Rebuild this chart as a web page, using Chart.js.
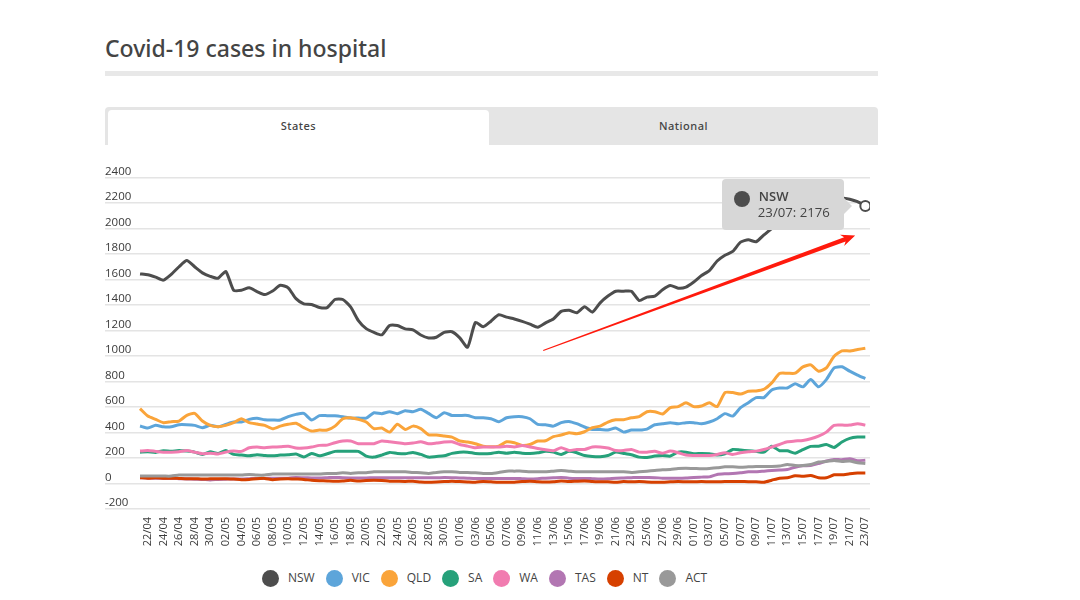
<!DOCTYPE html>
<html>
<head>
<meta charset="utf-8">
<title>Covid-19 cases in hospital</title>
<script src="https://cdn.jsdelivr.net/npm/chart.js@4/dist/chart.umd.min.js"></script>
<style>
  html, body { margin: 0; padding: 0; background: #fff; }
  body { width: 1080px; height: 600px; position: relative; overflow: hidden; font-family: "Open Sans", sans-serif; color: #444; }
  h1 { position: absolute; left: 105px; top: 32px; margin: 0; font: 500 23px/32px "Noto Sans", sans-serif; color: #444; }
  .rule { position: absolute; left: 105px; top: 71px; width: 773px; height: 5px; background: #e8e8e8; }
  .tabs { position: absolute; left: 105px; top: 107px; width: 773px; height: 38px; background: #e5e5e5; border-radius: 4px 4px 0 0; }
  .tab { position: absolute; top: 3px; height: 35px; text-align: center; font: 500 11px/32px "Noto Sans", sans-serif; letter-spacing: 0.5px; color: #444; }
  .tab.on { left: 3px; width: 381px; background: #fff; border-radius: 4px 4px 0 0; }
  .tab.off { left: 384px; width: 389px; }
  #wrap { position: absolute; left: 105px; top: 150px; width: 775px; height: 410px; }
  #legend { position: absolute; left: 262px; top: 569px; display: flex; align-items: center; height: 18px; }
  #legend span.dot { width: 17px; height: 17px; border-radius: 50%; margin-right: 9px; }
  #legend span.txt { font: 500 12px/18px "Open Sans", sans-serif; color: #444; margin-right: 11px; }
  #tip { position: absolute; width: 122px; height: 51px; background: #d7d7d7; border-radius: 4px; display: none; }
  #tip:after { content: ""; position: absolute; right: -8px; top: 19px; border-left: 8px solid #d7d7d7; border-top: 8px solid transparent; border-bottom: 8px solid transparent; }
  #tip i { position: absolute; left: 12px; top: 12px; width: 16px; height: 16px; border-radius: 50%; }
  #tip b { position: absolute; left: 37px; top: 9px; font: 600 13px/17px "Open Sans", sans-serif; color: #444; }
  #tip span { position: absolute; left: 36px; top: 25px; font: 400 13.2px/17px "Open Sans", sans-serif; color: #444; white-space: nowrap; }
</style>
</head>
<body>
<h1>Covid-19 cases in hospital</h1>
<div class="rule"></div>
<div class="tabs"><div class="tab on">States</div><div class="tab off">National</div></div>
<div id="wrap"><canvas id="hospitalChart"></canvas><div id="tip"><i></i><b></b><span></span></div></div>
<div id="legend"></div>
<script>
// --- DATA ---
const dates = [
  '21/04','22/04','23/04','24/04','25/04','26/04','27/04','28/04','29/04','30/04',
  '01/05','02/05','03/05','04/05','05/05','06/05','07/05','08/05','09/05','10/05','11/05','12/05','13/05','14/05','15/05','16/05','17/05','18/05','19/05','20/05','21/05','22/05','23/05','24/05','25/05','26/05','27/05','28/05','29/05','30/05','31/05',
  '01/06','02/06','03/06','04/06','05/06','06/06','07/06','08/06','09/06','10/06','11/06','12/06','13/06','14/06','15/06','16/06','17/06','18/06','19/06','20/06','21/06','22/06','23/06','24/06','25/06','26/06','27/06','28/06','29/06','30/06',
  '01/07','02/07','03/07','04/07','05/07','06/07','07/07','08/07','09/07','10/07','11/07','12/07','13/07','14/07','15/07','16/07','17/07','18/07','19/07','20/07','21/07','22/07','23/07'
];
const stateNames = ['NSW', 'VIC', 'QLD', 'SA', 'WA', 'TAS', 'NT', 'ACT'];
const stateColors = ['#4d4d4d', '#5da5da', '#faa43a', '#26a17a', '#f17cb0', '#b276b2', '#d64000', '#999999'];
const yTicks = [-200, 2400, 200];

const nsw = [1644,1637,1618,1595,1640,1700,1749,1700,1652,1625,1610,1663,1516,1516,1535,1505,1482,1510,1555,1535,1450,1409,1404,1380,1380,1443,1443,1385,1278,1215,1185,1166,1239,1239,1213,1205,1165,1142,1147,1185,1190,1142,1069,1263,1229,1273,1323,1305,1290,1272,1250,1226,1260,1290,1350,1359,1339,1386,1344,1417,1470,1508,1508,1508,1435,1462,1470,1520,1553,1532,1540,1580,1631,1670,1745,1790,1820,1893,1911,1896,1950,2000,2050,2100,2145,2180,2200,2215,2225,2235,2240,2230,2210,2176];
const vic = [451,435,456,445,445,461,461,456,438,456,445,464,482,482,503,511,500,498,498,524,542,550,498,532,532,532,524,513,513,513,555,548,563,548,571,563,582,550,516,555,534,534,534,516,516,508,485,516,524,524,508,464,461,450,477,487,469,443,424,424,419,435,403,419,419,427,461,469,477,469,477,477,469,482,508,548,529,595,634,674,674,734,749,749,782,758,815,758,815,907,915,881,850,823];
const qld = [587,529,503,477,485,490,535,550,490,456,445,456,477,508,477,466,456,430,450,464,472,438,411,419,419,450,508,516,503,482,430,435,403,464,424,450,430,382,380,372,364,333,325,312,293,288,293,327,320,299,306,333,335,367,380,398,390,406,438,450,482,500,500,516,524,563,563,545,595,603,634,603,608,634,603,713,713,702,723,726,739,789,863,865,865,915,930,881,907,998,1040,1040,1051,1061];
const sa = [246,249,244,257,252,259,254,246,228,249,236,259,228,223,217,225,220,217,223,225,231,207,236,217,233,252,252,252,252,215,207,223,244,236,233,244,228,207,212,217,236,246,246,236,233,236,246,238,246,238,236,241,252,246,228,252,241,220,212,210,220,246,236,225,207,204,215,220,215,246,246,233,236,233,223,233,267,262,257,252,246,293,257,257,238,265,291,293,306,283,325,354,364,364];
const wa = [254,259,252,246,246,249,259,246,233,238,231,246,254,252,280,286,280,286,288,293,278,278,286,299,301,320,333,333,312,312,312,333,327,320,312,317,327,312,317,325,327,306,293,280,286,286,286,293,286,299,286,275,265,257,280,259,267,267,286,286,278,259,259,267,246,246,252,238,254,241,223,220,220,220,228,241,228,241,249,254,267,286,306,327,333,338,351,372,403,456,458,458,469,458];
const tas = [45,42,42,40,40,38,36,34,32,28,32,34,36,36,38,40,40,42,42,42,47,45,44,44,46,48,45,44,44,44,45,46,46,46,46,46,46,46,45,47,46,44,42,40,40,40,40,40,40,38,36,38,42,45,48,42,40,40,38,36,38,42,44,46,48,47,46,42,42,42,44,48,50,52,71,76,78,84,92,92,97,102,106,110,128,139,141,157,176,189,186,194,178,183];
const nt = [45,42,45,42,42,40,38,38,35,37,38,37,35,30,32,38,40,30,36,38,35,32,25,22,20,18,20,25,20,24,25,24,18,17,16,18,12,10,12,15,18,15,12,10,16,13,10,10,10,15,18,14,12,14,20,15,18,20,16,14,13,10,15,13,15,12,10,10,13,15,14,14,15,14,14,15,16,16,14,14,10,26,42,45,60,57,63,45,45,68,68,76,82,82];
const act = [58,58,58,58,58,66,66,66,66,66,66,66,66,66,71,66,66,74,74,74,74,74,74,74,79,79,84,79,84,84,92,92,92,92,92,87,84,79,87,92,92,87,87,84,79,79,87,97,97,97,92,92,92,97,102,97,92,92,92,92,92,92,92,87,92,97,102,107,110,118,120,118,115,118,123,131,131,128,131,134,134,134,137,149,141,141,149,168,173,181,173,176,162,157];
const stateValues = [nsw, vic, qld, sa, wa, tas, nt, act];

// --- LEGEND ---
const legendBox = document.getElementById('legend');
stateNames.forEach((name, i) => {
    legendBox.innerHTML += `<span class="dot" style="background:${stateColors[i]}"></span><span class="txt">${name}</span>`;
});

// --- TOOLTIP ---
function drawTip({ tooltip }) {
    const tip = document.getElementById('tip');
    const point = tooltip.dataPoints && tooltip.dataPoints[0];
    if (!point) return;
    const idx = point.datasetIndex;
    tip.style.display = 'block';
    tip.style.left = (tooltip.caretX - 143.5) + 'px';
    tip.style.top = (tooltip.caretY - 27) + 'px';
    tip.querySelector('i').style.background = stateColors[idx];
    tip.querySelector('b').textContent = stateNames[idx];
    tip.querySelector('span').textContent = `${dates[point.dataIndex]}: ${stateValues[idx][point.dataIndex]}`;
}

// Red arrow someone drew over the chart, anchored in axis units
const arrowFrom = { x: 51.7, y: 1043 };
const arrowTo = { x: 91.7, y: 1945 };
const arrowPlugin = {
    id: 'redArrow',
    afterDatasetsDraw(chart) {
        const { ctx, scales: { x, y } } = chart;
        const x0 = x.getPixelForValue(arrowFrom.x), y0 = y.getPixelForValue(arrowFrom.y);
        const x1 = x.getPixelForValue(arrowTo.x), y1 = y.getPixelForValue(arrowTo.y);
        const len = Math.hypot(x1 - x0, y1 - y0);
        const ux = (x1 - x0) / len, uy = (y1 - y0) / len;
        const at = (back, side) => [x1 - ux * back - uy * side, y1 - uy * back + ux * side];
        ctx.save();
        ctx.fillStyle = '#ff1a0d';
        ctx.beginPath();
        ctx.moveTo(...at(len, -0.5));
        ctx.lineTo(...at(11, -2.2));
        ctx.lineTo(...at(14, -6));
        ctx.lineTo(x1, y1);
        ctx.lineTo(...at(14, 6));
        ctx.lineTo(...at(11, 2.2));
        ctx.lineTo(...at(len, 0.5));
        ctx.closePath();
        ctx.fill();
        ctx.restore();
    }
};

// --- CHART ---
const hospitalChart = new Chart(document.getElementById('hospitalChart'), {
    type: 'line',
    data: {
        datasets: stateNames.map((name, i) => ({
            label: name,
            data: stateValues[i].map((v, d) => ({ x: d, y: v })),
            borderColor: stateColors[i],
            backgroundColor: stateColors[i],
            borderWidth: 3,
            tension: 0.2,
            pointRadius: 0,
            pointHoverRadius: 5,
            pointHoverBorderWidth: 2,
            pointHoverBorderColor: stateColors[i],
            pointHoverBackgroundColor: '#fff',
            order: stateNames.length - i,
        }))
    },
    options: {
        responsive: true,
        maintainAspectRatio: false,
        animation: false,
        events: [],
        layout: { padding: { top: 27.5, right: 10, left: 0, bottom: 0 } },
        plugins: {
            legend: { display: false },
            tooltip: { enabled: false, external: drawTip },
        },
        scales: {
            x: {
                type: 'linear',
                min: -4.49,
                max: 93.6,
                afterBuildTicks: s => {
                    s.ticks = dates.map((_, i) => ({ value: i })).filter(t => t.value % 2 === 1);
                },
                afterFit: s => { s.height = 51; s.paddingLeft = 0; s.paddingRight = 0; },
                grid: { display: false },
                border: { display: false },
                ticks: {
                    autoSkip: false,
                    minRotation: 90,
                    maxRotation: 90,
                    padding: 0,
                    color: '#3a3a3a',
                    font: { family: '"Open Sans", sans-serif', size: 11 },
                    callback: v => dates[v],
                },
            },
            y: {
                min: yTicks[0],
                max: yTicks[1],
                grid: { color: '#e4e4e4', lineWidth: 1.5, drawTicks: false },
                border: { display: false },
                ticks: {
                    stepSize: yTicks[2],
                    mirror: true,
                    padding: 0,
                    labelOffset: -6,
                    color: '#3a3a3a',
                    font: { family: '"Open Sans", sans-serif', size: 11.5 },
                    callback: v => String(v),
                },
            },
        }
    },
    plugins: [arrowPlugin]
});

const lastPoint = [{ datasetIndex: 0, index: nsw.length - 1 }];
hospitalChart.setActiveElements(lastPoint);
hospitalChart.tooltip.setActiveElements(lastPoint, { x: 0, y: 0 });
hospitalChart.render();
</script>
</body>
</html>
